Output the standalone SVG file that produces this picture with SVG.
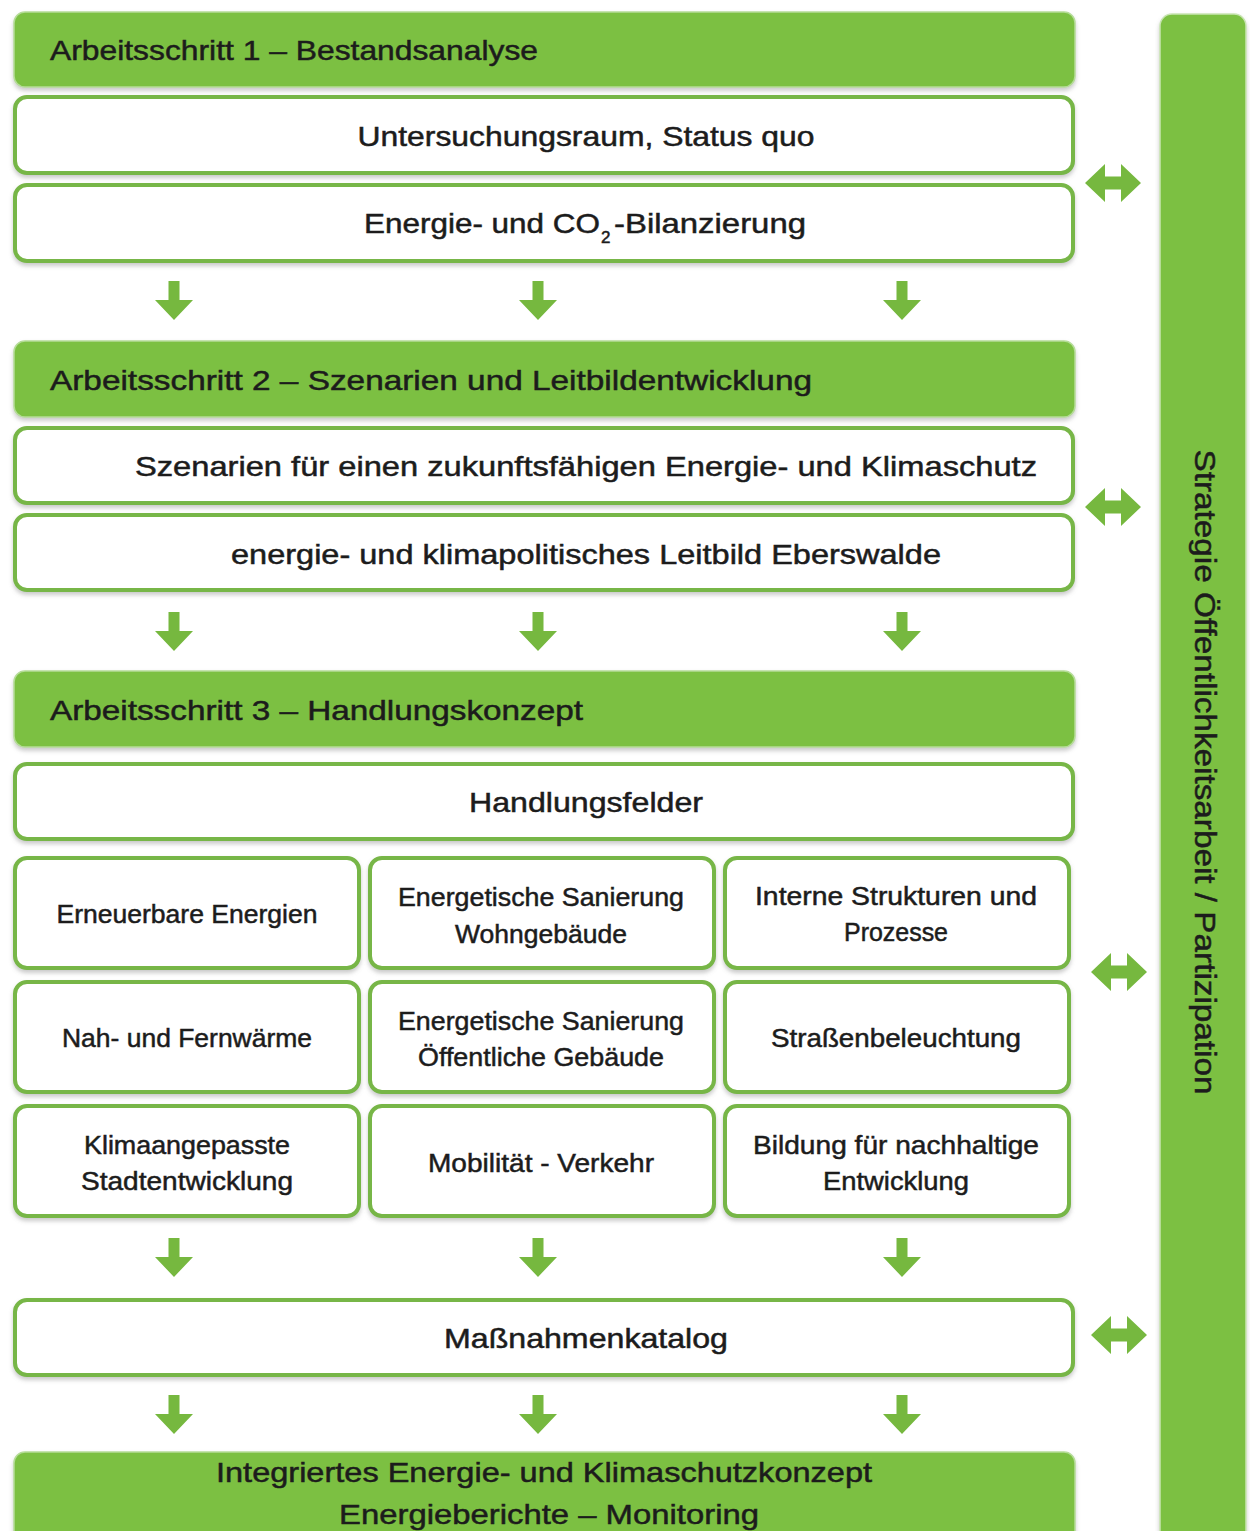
<svg xmlns="http://www.w3.org/2000/svg" width="1250" height="1531" viewBox="0 0 1250 1531">
<style>
.hdr{fill:#7cc043;stroke:#b5dc98;stroke-width:1.5}
.box{fill:#ffffff;stroke:#77b646;stroke-width:4}
.t{font-family:"Liberation Sans",Arial,sans-serif;fill:#1c1c1c;stroke:#1c1c1c;stroke-width:0.5}
.h{font-size:28px}
.m{font-size:28px;text-anchor:middle}
.s{font-size:26px;text-anchor:middle}
.arr{fill:#76b83f}
</style>
<defs>
<filter id="sh" x="-5%" y="-20%" width="110%" height="150%">
<feDropShadow dx="0" dy="3" stdDeviation="2" flood-color="#8a8a8a" flood-opacity="0.45"/>
</filter>
<path id="down" d="M-5.5,0 H5.5 V19 H19 L0,39 L-19,19 H-5.5 Z"/>
<path id="lr" d="M-28,0 L-8,-19 L-8,-6.5 L8,-6.5 L8,-19 L28,0 L8,19 L8,6.5 L-8,6.5 L-8,19 Z"/>
</defs>
<rect width="1250" height="1531" fill="#ffffff"/>

<g id="sidebar">
<rect x="1160" y="14" width="86" height="1535" rx="12" fill="#7cc043" stroke="#c9e5b3" stroke-width="1.5" filter="url(#sh)"/>
<text class="t" font-size="30" text-anchor="middle" transform="translate(1195,772) rotate(90)" textLength="645" lengthAdjust="spacingAndGlyphs">Strategie Öffentlichkeitsarbeit / Partizipation</text>
</g>

<g id="step1">
<rect class="hdr" x="14" y="12" width="1061" height="75" rx="11" filter="url(#sh)"/>
<text class="t h" x="50" y="60" textLength="488" lengthAdjust="spacingAndGlyphs">Arbeitsschritt 1 – Bestandsanalyse</text>
</g>
<g id="untersuchungsraum">
<rect class="box" x="15" y="97" width="1058" height="76" rx="12" filter="url(#sh)"/>
<text class="t m" x="586" y="146" textLength="457" lengthAdjust="spacingAndGlyphs">Untersuchungsraum, Status quo</text>
</g>
<g id="bilanzierung">
<rect class="box" x="15" y="185" width="1058" height="76" rx="12" filter="url(#sh)"/>
<text class="t" font-size="28"><tspan x="364" y="233" textLength="236" lengthAdjust="spacingAndGlyphs">Energie- und CO</tspan><tspan x="601" y="243" font-size="17">2</tspan><tspan x="614" y="233" textLength="192" lengthAdjust="spacingAndGlyphs">-Bilanzierung</tspan></text>
</g>

<g id="step2">
<rect class="hdr" x="14" y="341" width="1061" height="76" rx="11" filter="url(#sh)"/>
<text class="t h" x="50" y="390" textLength="762" lengthAdjust="spacingAndGlyphs">Arbeitsschritt 2 –  Szenarien und Leitbildentwicklung</text>
</g>
<g id="szenarien">
<rect class="box" x="15" y="428" width="1058" height="75" rx="12" filter="url(#sh)"/>
<text class="t m" x="586" y="476" textLength="902" lengthAdjust="spacingAndGlyphs">Szenarien für einen zukunftsfähigen Energie- und Klimaschutz</text>
</g>
<g id="leitbild">
<rect class="box" x="15" y="515" width="1058" height="75" rx="12" filter="url(#sh)"/>
<text class="t m" x="586" y="564" textLength="710" lengthAdjust="spacingAndGlyphs">energie- und klimapolitisches Leitbild Eberswalde</text>
</g>

<g id="step3">
<rect class="hdr" x="14" y="671" width="1061" height="76" rx="11" filter="url(#sh)"/>
<text class="t h" x="50" y="720" textLength="533" lengthAdjust="spacingAndGlyphs">Arbeitsschritt 3 –  Handlungskonzept</text>
</g>
<g id="handlungsfelder">
<rect class="box" x="15" y="764" width="1058" height="75" rx="12" filter="url(#sh)"/>
<text class="t m" x="586" y="812" textLength="234" lengthAdjust="spacingAndGlyphs">Handlungsfelder</text>
</g>

<g id="f1">
<rect class="box" x="15" y="858" width="344" height="110" rx="12" filter="url(#sh)"/>
<text class="t s" x="187" y="923" textLength="261" lengthAdjust="spacingAndGlyphs">Erneuerbare Energien</text>
</g>
<g id="f2">
<rect class="box" x="370" y="858" width="344" height="110" rx="12" filter="url(#sh)"/>
<text class="t s" x="541" y="906" textLength="286" lengthAdjust="spacingAndGlyphs">Energetische Sanierung</text>
<text class="t s" x="541" y="943" textLength="172" lengthAdjust="spacingAndGlyphs">Wohngebäude</text>
</g>
<g id="f3">
<rect class="box" x="725" y="858" width="344" height="110" rx="12" filter="url(#sh)"/>
<text class="t s" x="896" y="905" textLength="282" lengthAdjust="spacingAndGlyphs">Interne Strukturen und</text>
<text class="t s" x="896" y="941" textLength="104" lengthAdjust="spacingAndGlyphs">Prozesse</text>
</g>
<g id="f4">
<rect class="box" x="15" y="982" width="344" height="110" rx="12" filter="url(#sh)"/>
<text class="t s" x="187" y="1047" textLength="250" lengthAdjust="spacingAndGlyphs">Nah- und Fernwärme</text>
</g>
<g id="f5">
<rect class="box" x="370" y="982" width="344" height="110" rx="12" filter="url(#sh)"/>
<text class="t s" x="541" y="1030" textLength="286" lengthAdjust="spacingAndGlyphs">Energetische Sanierung</text>
<text class="t s" x="541" y="1066" textLength="246" lengthAdjust="spacingAndGlyphs">Öffentliche Gebäude</text>
</g>
<g id="f6">
<rect class="box" x="725" y="982" width="344" height="110" rx="12" filter="url(#sh)"/>
<text class="t s" x="896" y="1047" textLength="250" lengthAdjust="spacingAndGlyphs">Straßenbeleuchtung</text>
</g>
<g id="f7">
<rect class="box" x="15" y="1106" width="344" height="110" rx="12" filter="url(#sh)"/>
<text class="t s" x="187" y="1154" textLength="206" lengthAdjust="spacingAndGlyphs">Klimaangepasste</text>
<text class="t s" x="187" y="1190" textLength="212" lengthAdjust="spacingAndGlyphs">Stadtentwicklung</text>
</g>
<g id="f8">
<rect class="box" x="370" y="1106" width="344" height="110" rx="12" filter="url(#sh)"/>
<text class="t s" x="541" y="1172" textLength="226" lengthAdjust="spacingAndGlyphs">Mobilität - Verkehr</text>
</g>
<g id="f9">
<rect class="box" x="725" y="1106" width="344" height="110" rx="12" filter="url(#sh)"/>
<text class="t s" x="896" y="1154" textLength="286" lengthAdjust="spacingAndGlyphs">Bildung für nachhaltige</text>
<text class="t s" x="896" y="1190" textLength="146" lengthAdjust="spacingAndGlyphs">Entwicklung</text>
</g>

<g id="massnahmenkatalog">
<rect class="box" x="15" y="1300" width="1058" height="75" rx="12" filter="url(#sh)"/>
<text class="t m" x="586" y="1348" textLength="284" lengthAdjust="spacingAndGlyphs">Maßnahmenkatalog</text>
</g>

<g id="final">
<rect class="hdr" x="14" y="1452" width="1061" height="100" rx="11" filter="url(#sh)"/>
<text class="t m" x="544" y="1482" textLength="656" lengthAdjust="spacingAndGlyphs">Integriertes Energie- und Klimaschutzkonzept</text>
<text class="t m" x="549" y="1524" textLength="420" lengthAdjust="spacingAndGlyphs">Energieberichte – Monitoring</text>
</g>

<g id="connectors" class="arr">
<use href="#down" x="174" y="281"/><use href="#down" x="538" y="281"/><use href="#down" x="902" y="281"/>
<use href="#down" x="174" y="612"/><use href="#down" x="538" y="612"/><use href="#down" x="902" y="612"/>
<use href="#down" x="174" y="1238"/><use href="#down" x="538" y="1238"/><use href="#down" x="902" y="1238"/>
<use href="#down" x="174" y="1395"/><use href="#down" x="538" y="1395"/><use href="#down" x="902" y="1395"/>
<use href="#lr" x="1113" y="183"/>
<use href="#lr" x="1113" y="507"/>
<use href="#lr" x="1119" y="972"/>
<use href="#lr" x="1119" y="1335"/>
</g>
</svg>
